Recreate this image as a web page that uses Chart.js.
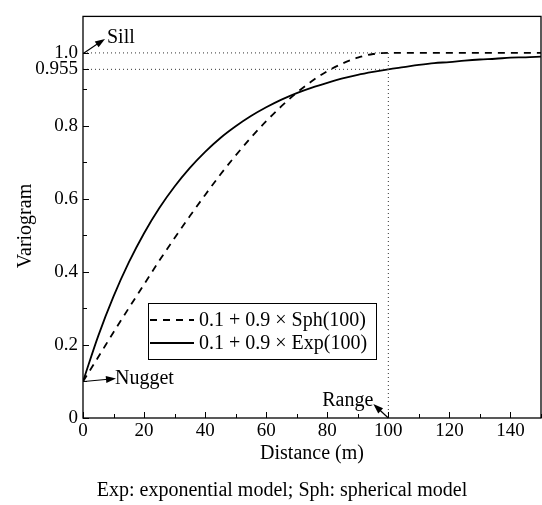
<!DOCTYPE html>
<html>
<head>
<meta charset="utf-8">
<script src="https://cdn.jsdelivr.net/npm/chart.js@4.4.0/dist/chart.umd.min.js"></script>
<style>
body{margin:0;background:#fff}
#wrap{width:542px;height:505px;position:relative}
</style>
</head>
<body>
<div id="wrap"><canvas id="myChart"></canvas></div>
<script>
// values, every 5 m
var distance = [0,5,10,15,20,25,30,35,40,45,50,55,60,65,70,75,80,85,90,95,100,105,110,115,120,125,130,135,140,145,150];
var sphValues = [0.1,0.167,0.235,0.301,0.366,0.431,0.493,0.553,0.611,0.667,0.719,0.768,0.813,0.854,0.891,0.923,0.950,0.971,0.987,0.997,1.0,1.0,1.0,1.0,1.0,1.0,1.0,1.0,1.0,1.0,1.0];
var expValues = [0.1,0.225,0.333,0.426,0.506,0.575,0.634,0.685,0.729,0.767,0.799,0.827,0.851,0.872,0.890,0.905,0.918,0.930,0.940,0.948,0.955,0.961,0.967,0.972,0.975,0.979,0.982,0.984,0.987,0.988,0.990];

var sill = 1.0;
var nugget = 0.1;
var range = 100;
var expAtRange = 0.955;

var yLabelValues = [0,0.2,0.4,0.6,0.8,0.955,1.0];
var yLabelTexts = ['0','0.2','0.4','0.6','0.8','0.955','1.0'];
var yMinorValues = [0.1,0.3,0.5,0.7,0.9];
var xLabelValues = [0,20,40,60,80,100,120,140];

var legendTexts = ['0.1 + 0.9 \u00d7 Sph(100)','0.1 + 0.9 \u00d7 Exp(100)'];
var FONT = "'Liberation Serif', 'DejaVu Serif', serif";

function pts(xs, ys){
    var out = [];
    for (var i = 0; i < xs.length; i++) out.push({x: xs[i], y: ys[i]});
    return out;
}

function drawArrow(ctx, x1, y1, x2, y2){
    var a = Math.atan2(y2 - y1, x2 - x1);
    var hl = 10, hw = 3.5;
    ctx.beginPath();
    ctx.moveTo(x1, y1);
    ctx.lineTo(x2 - Math.cos(a) * hl * 0.8, y2 - Math.sin(a) * hl * 0.8);
    ctx.stroke();
    ctx.beginPath();
    ctx.moveTo(x2, y2);
    ctx.lineTo(x2 - Math.cos(a) * hl + Math.sin(a) * hw, y2 - Math.sin(a) * hl - Math.cos(a) * hw);
    ctx.lineTo(x2 - Math.cos(a) * hl - Math.sin(a) * hw, y2 - Math.sin(a) * hl + Math.cos(a) * hw);
    ctx.closePath();
    ctx.fill();
}

// frame, inner ticks, annotations, legend, caption
var decorations = {
    id: 'decorations',
    afterDraw: function(chart){
        var ctx = chart.ctx, ca = chart.chartArea;
        var xs = chart.scales.x, ys = chart.scales.y;
        ctx.save();
        ctx.strokeStyle = '#000';
        ctx.fillStyle = '#000';
        ctx.lineWidth = 1.3;
        ctx.strokeRect(ca.left, ca.top, ca.right - ca.left, ca.bottom - ca.top);

        // tick marks pointing inward
        ctx.lineWidth = 1;
        ctx.beginPath();
        yLabelValues.forEach(function(v){
            var p = Math.round(ys.getPixelForValue(v)) + 0.5;
            ctx.moveTo(ca.left, p); ctx.lineTo(ca.left + 6, p);
        });
        yMinorValues.forEach(function(v){
            var p = Math.round(ys.getPixelForValue(v)) + 0.5;
            ctx.moveTo(ca.left, p); ctx.lineTo(ca.left + 4, p);
        });
        for (var v = 0; v <= 150; v += 10){
            var p = Math.round(xs.getPixelForValue(v)) + 0.5;
            ctx.moveTo(p, ca.bottom); ctx.lineTo(p, ca.bottom - (v % 20 == 0 ? 6 : 4));
        }
        ctx.stroke();

        // annotations: arrows run from the point to the label
        ctx.font = '20px ' + FONT;
        ctx.textBaseline = 'alphabetic';
        ctx.lineWidth = 1.2;
        var x0 = xs.getPixelForValue(0);
        var ySill = ys.getPixelForValue(sill);
        drawArrow(ctx, x0 + 1, ySill, x0 + 22, ySill - 14);
        ctx.textAlign = 'left';
        ctx.fillText('Sill', x0 + 24, ySill - 10);

        var yNug = ys.getPixelForValue(nugget);
        drawArrow(ctx, x0 + 1, yNug, x0 + 33, yNug - 3);
        ctx.fillText('Nugget', x0 + 32, yNug + 3);

        var xR = xs.getPixelForValue(range), y0 = ys.getPixelForValue(0);
        drawArrow(ctx, xR, y0, xR - 15, y0 - 14);
        ctx.textAlign = 'right';
        ctx.fillText('Range', xR - 15, y0 - 12);

        // legend
        var lx = 148, ly = 303, lw = 228, lh = 56;
        ctx.fillStyle = '#fff';
        ctx.fillRect(lx, ly, lw, lh);
        ctx.fillStyle = '#000';
        ctx.lineWidth = 1;
        ctx.strokeRect(lx + 0.5, ly + 0.5, lw, lh);
        ctx.lineWidth = 1.8;
        ctx.setLineDash([7, 6]);
        ctx.beginPath(); ctx.moveTo(lx + 2, ly + 17); ctx.lineTo(lx + 46, ly + 17); ctx.stroke();
        ctx.setLineDash([]);
        ctx.beginPath(); ctx.moveTo(lx + 2, ly + 40); ctx.lineTo(lx + 46, ly + 40); ctx.stroke();
        ctx.font = '20px ' + FONT;
        ctx.textAlign = 'left';
        ctx.fillText(legendTexts[0], lx + 51, ly + 23);
        ctx.fillText(legendTexts[1], lx + 51, ly + 46);

        // axis titles and caption
        ctx.textAlign = 'center';
        ctx.fillText('Distance (m)', (ca.left + ca.right) / 2, 459);
        ctx.fillText('Exp: exponential model; Sph: spherical model', 282, 496);
        ctx.save();
        ctx.translate(31, 226);
        ctx.rotate(-Math.PI / 2);
        ctx.fillText('Variogram', 0, 0);
        ctx.restore();
        ctx.restore();
    }
};

var dotted = {borderColor: '#333', borderWidth: 1, borderDash: [1, 3], pointRadius: 0, fill: false};

new Chart(document.getElementById('myChart'), {
    type: 'line',
    data: {
        datasets: [
            Object.assign({data: [{x: 0, y: sill}, {x: range, y: sill}]}, dotted),
            Object.assign({data: [{x: 0, y: expAtRange}, {x: range, y: expAtRange}]}, dotted),
            Object.assign({data: [{x: range, y: 0}, {x: range, y: sill}]}, dotted),
            {label: legendTexts[0], data: pts(distance, sphValues), borderColor: '#000', borderWidth: 1.8,
             borderDash: [7, 6], pointRadius: 0, fill: false, cubicInterpolationMode: 'monotone'},
            {label: legendTexts[1], data: pts(distance, expValues), borderColor: '#000', borderWidth: 1.8,
             pointRadius: 0, fill: false, cubicInterpolationMode: 'monotone'}
        ]
    },
    options: {
        responsive: true,
        maintainAspectRatio: false,
        animation: false,
        layout: {padding: {top: 13, right: 1, left: 0, bottom: 0}},
        plugins: {legend: {display: false}, tooltip: {enabled: false}},
        scales: {
            x: {
                type: 'linear', min: 0, max: 150,
                grid: {display: false, drawTicks: false},
                border: {display: false},
                afterBuildTicks: function(s){ s.ticks = xLabelValues.map(function(v){ return {value: v}; }); },
                afterFit: function(s){ s.height = 87; },
                ticks: {color: '#000', font: {family: FONT, size: 19}, padding: 2, maxRotation: 0, autoSkip: false}
            },
            y: {
                type: 'linear', min: 0, max: 1.1,
                grid: {display: false, drawTicks: false},
                border: {display: false},
                afterBuildTicks: function(s){ s.ticks = yLabelValues.map(function(v){ return {value: v}; }); },
                afterFit: function(s){ s.width = 83; },
                ticks: {
                    color: '#000', font: {family: FONT, size: 19}, padding: 5, autoSkip: false,
                    callback: function(value){
                        for (var i = 0; i < yLabelValues.length; i++)
                            if (Math.abs(yLabelValues[i] - value) < 1e-6) return yLabelTexts[i];
                        return '';
                    }
                }
            }
        }
    },
    plugins: [decorations]
});
</script>
</body>
</html>
